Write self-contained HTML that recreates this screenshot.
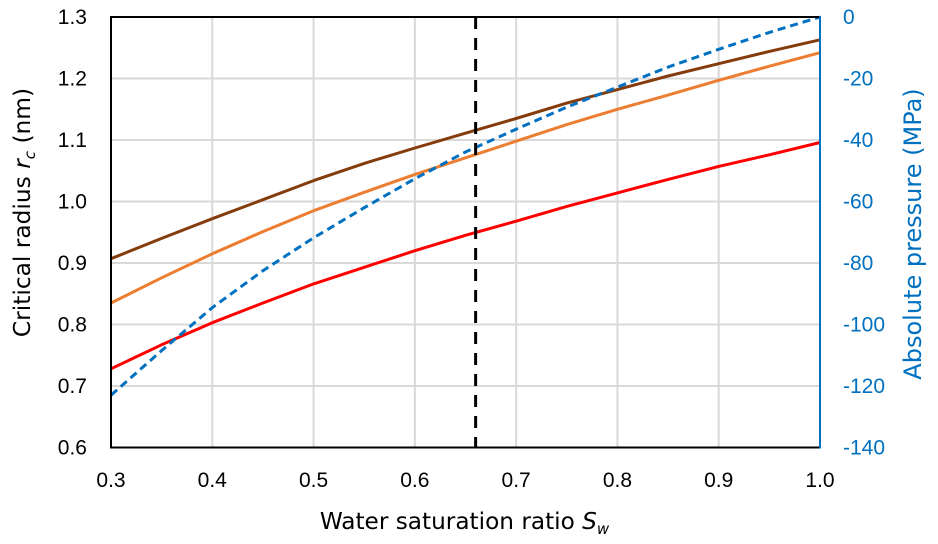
<!DOCTYPE html>
<html>
<head>
<meta charset="utf-8">
<style>
html,body{margin:0;padding:0;background:#fff;}
svg{display:block;font-family:"Liberation Sans",sans-serif;}
</style>
</head>
<body>
<svg id="chart" width="938" height="544" viewBox="0 0 938 544" xmlns="http://www.w3.org/2000/svg"></svg>
<script>
const xValues = [0.30,0.35,0.40,0.45,0.50,0.55,0.60,0.65,0.70,0.75,0.80,0.85,0.90,0.95,1.00];
const brownRadius = [0.907,0.940,0.972,1.003,1.034,1.062,1.087,1.111,1.135,1.160,1.182,1.204,1.224,1.244,1.263];
const orangeRadius = [0.835,0.876,0.915,0.951,0.985,1.015,1.044,1.071,1.098,1.125,1.150,1.173,1.197,1.220,1.242];
const redRadius = [0.728,0.767,0.803,0.835,0.866,0.893,0.920,0.945,0.968,0.992,1.014,1.036,1.057,1.076,1.096];
const bluePressure = [-123,-108.5,-94.5,-82.5,-71.8,-62,-52.6,-43.9,-36.5,-29.3,-22.8,-16.3,-10.5,-5,0];
const xTicks = [0.3,0.4,0.5,0.6,0.7,0.8,0.9,1.0];
const yLeftTicks = [0.6,0.7,0.8,0.9,1.0,1.1,1.2,1.3];
const yRightTicks = [0,-20,-40,-60,-80,-100,-120,-140];
const markerX = [0.66];

const svg = document.getElementById('chart');
const NS = 'http://www.w3.org/2000/svg';
const plotLeft = 111, plotRight = 820, plotTop = 17, plotBottom = 447.5;
const xScale = v => plotLeft + (v - 0.3) / 0.7 * (plotRight - plotLeft);
const yLeft = v => plotBottom - (v - 0.6) / 0.7 * (plotBottom - plotTop);
const yRight = v => plotTop + (-v) / 140 * (plotBottom - plotTop);

function make(tag, attrs, parent) {
  const el = document.createElementNS(NS, tag);
  for (const k in attrs) el.setAttribute(k, attrs[k]);
  (parent || svg).appendChild(el);
  return el;
}
function lineEl(x1, y1, x2, y2, stroke, width) {
  return make('line', {x1: x1, y1: y1, x2: x2, y2: y2, stroke: stroke, 'stroke-width': width});
}
function label(x, y, text, anchor, fill, size) {
  const t = make('text', {x: x, y: y, 'text-anchor': anchor, fill: fill, 'font-size': size});
  t.textContent = text;
  return t;
}

xTicks.slice(1, -1).forEach(v => {
  const g = lineEl(xScale(v), plotTop, xScale(v), plotBottom, '#d9d9d9', 2);
  
  
});
yLeftTicks.slice(1, -1).forEach(v => {
  const g = lineEl(plotLeft, yLeft(v), plotRight, yLeft(v), '#d9d9d9', 2);
  
  
});

function series(values, yFn, color, width, dash, name) {
  const pts = values.map((v, i) => xScale(xValues[i]).toFixed(1) + ',' + yFn(v).toFixed(1)).join(' ');
  const attrs = {points: pts, fill: 'none', stroke: color, 'stroke-width': width, 'stroke-linejoin': 'round'};
  if (dash) attrs['stroke-dasharray'] = dash;
  const p = make('polyline', attrs);
  
  
}
series(brownRadius, yLeft, '#843c0c', 3, null, 'series-brown-radius');
series(orangeRadius, yLeft, '#ed7d31', 3, null, 'series-orange-radius');
series(redRadius, yLeft, '#ff0000', 3, null, 'series-red-radius');
series(bluePressure, yRight, '#0070c0', 3, '8 5', 'series-absolute-pressure');

const marker = lineEl(xScale(markerX[0]), plotTop, xScale(markerX[0]), plotBottom, '#000', 3);
marker.setAttribute('stroke-dasharray', '12 9');



const axTop = lineEl(plotLeft - 1, plotTop, plotRight, plotTop, '#000', 2);


const axBottom = lineEl(plotLeft - 1, plotBottom, plotRight, plotBottom, '#000', 2);


const axLeft = lineEl(plotLeft, plotTop, plotLeft, plotBottom, '#000', 2);


const axRight = lineEl(plotRight, plotTop - 1, plotRight, plotBottom + 1, '#0070c0', 2);



xTicks.forEach(v => {
  const t = label(xScale(v), 487, v.toFixed(1), 'middle', '#000', 21);
  
  
});
yLeftTicks.forEach(v => {
  const t = label(87, yLeft(v) + 7, v.toFixed(1), 'end', '#000', 21);
  
  
});
yRightTicks.forEach(v => {
  const t = label(843, yRight(v) + 7, String(v), 'start', '#0070c0', 21);
  
  
});

function axisTitle(x, y, rotate, fill, size, base, italicMain, sub, tail, name) {
  const attrs = {x: x, y: y, 'text-anchor': 'middle', fill: fill, 'font-size': size, 'font-family': '"DejaVu Sans", sans-serif'};
  if (rotate) attrs.transform = 'rotate(-90 ' + x + ' ' + y + ')';
  const t = make('text', attrs);
  
  
  t.appendChild(document.createTextNode(base));
  if (italicMain) {
    const i = make('tspan', {'font-style': 'italic'}, t);
    i.textContent = italicMain;
    const s = make('tspan', {'font-style': 'italic', 'font-size': 15, dy: 5}, t);
    s.textContent = sub;
    if (tail) {
      const r = make('tspan', {dy: -5}, t);
      r.textContent = tail;
    }
  }
  return t;
}
axisTitle(464.5, 529, false, '#000', 23.2, 'Water saturation ratio ', 'S', 'w', '', 'x-axis-title');
axisTitle(30, 212.5, true, '#000', 23.3, 'Critical radius ', 'r', 'c', ' (nm)', 'left-y-axis-title');
axisTitle(921, 234, true, '#0070c0', 24, 'Absolute pressure (MPa)', '', '', '', 'right-y-axis-title');
</script>
</body>
</html>
